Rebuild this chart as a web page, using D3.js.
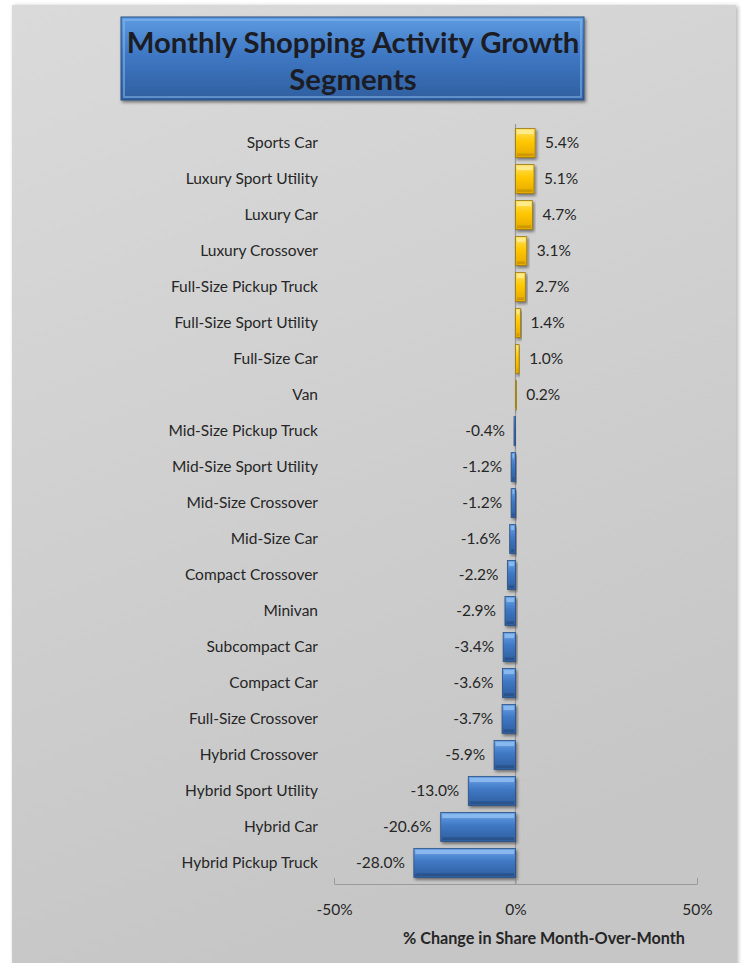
<!DOCTYPE html>
<html>
<head>
<meta charset="utf-8">
<script src="https://cdn.jsdelivr.net/npm/d3@7"></script>
<style>
  body { margin: 0; background: #fff; }
  svg { display: block; font-family: Lato, "Open Sans", sans-serif; }
</style>
</head>
<body>
<svg id="chart"></svg>
<script>
// data
var segments = ["Sports Car", "Luxury Sport Utility", "Luxury Car", "Luxury Crossover",
    "Full-Size Pickup Truck", "Full-Size Sport Utility", "Full-Size Car", "Van",
    "Mid-Size Pickup Truck", "Mid-Size Sport Utility", "Mid-Size Crossover", "Mid-Size Car",
    "Compact Crossover", "Minivan", "Subcompact Car", "Compact Car", "Full-Size Crossover",
    "Hybrid Crossover", "Hybrid Sport Utility", "Hybrid Car", "Hybrid Pickup Truck"];
var growth = [5.4, 5.1, 4.7, 3.1, 2.7, 1.4, 1.0, 0.2, -0.4, -1.2, -1.2, -1.6,
    -2.2, -2.9, -3.4, -3.6, -3.7, -5.9, -13.0, -20.6, -28.0];
var tickValues = [-50, 0, 50];

var svgWidth = 741;
var svgHeight = 963;
var textSize = 15.5;
var svg = d3.select('svg#chart')
    .attr("width", svgWidth)
    .attr("height", svgHeight);

var defs = svg.append("defs");

// panel background
var bg = defs.append("linearGradient").attr("id", "bg")
    .attr("x1", 0).attr("y1", 0).attr("x2", 0.3).attr("y2", 1);
bg.append("stop").attr("offset", "0%").attr("stop-color", "#dadada");
bg.append("stop").attr("offset", "100%").attr("stop-color", "#c6c6c6");

var shadow = defs.append("filter").attr("id", "shadow")
    .attr("x", "-10%").attr("y", "-10%").attr("width", "130%").attr("height", "140%");
shadow.append("feDropShadow").attr("dx", 1.5).attr("dy", 2).attr("stdDeviation", 1.5)
    .attr("flood-color", "#000").attr("flood-opacity", 0.45);

var panelShadow = defs.append("filter").attr("id", "pshadow")
    .attr("x", "-5%").attr("y", "-5%").attr("width", "110%").attr("height", "110%");
panelShadow.append("feDropShadow").attr("dx", 2).attr("dy", 1).attr("stdDeviation", 2)
    .attr("flood-color", "#000").attr("flood-opacity", 0.3);

function makeGrad(id, top, mid, bottom) {
    var g = defs.append("linearGradient").attr("id", id)
        .attr("x1", 0).attr("y1", 0).attr("x2", 0).attr("y2", 1);
    g.append("stop").attr("offset", "0%").attr("stop-color", top);
    g.append("stop").attr("offset", "45%").attr("stop-color", mid);
    g.append("stop").attr("offset", "100%").attr("stop-color", bottom);
}
makeGrad("gold", "#ffe066", "#ffc800", "#e6a800");
makeGrad("blue", "#6aa3e8", "#3f78c4", "#2e5e9e");
makeGrad("title", "#5d9be0", "#3f78c4", "#2f5f9f");

svg.append("rect")
    .attr("x", 12).attr("y", 5)
    .attr("width", 724).attr("height", svgHeight)
    .attr("fill", "url(#bg)")
    .attr("filter", "url(#pshadow)");

// title box
var title = svg.append("g");
title.append("rect")
    .attr("x", 121).attr("y", 17).attr("width", 463).attr("height", 83)
    .attr("fill", "url(#title)").attr("stroke", "#2a4f80").attr("stroke-width", 1)
    .attr("filter", "url(#shadow)");
title.append("rect")
    .attr("x", 124).attr("y", 20).attr("width", 457).attr("height", 77)
    .attr("fill", "none").attr("stroke", "#8bbcf0").attr("stroke-opacity", 0.5).attr("stroke-width", 2);
title.selectAll("text").data(["Monthly Shopping Activity Growth", "Segments"]).enter()
    .append("text")
    .text(function (d) { return d; })
    .attr("x", 353)
    .attr("y", function (d, i) { return 53 + i * 37; })
    .attr("text-anchor", "middle")
    .attr("font-size", 29.3)
    .attr("font-weight", "bold")
    .attr("fill", "#1c1c24");

// scales
var x = d3.scaleLinear().domain([-50, 50]).range([334, 697]);
var y = d3.scaleBand().domain(segments).range([125, 881]).paddingInner(0.2).paddingOuter(0.1);

// zero line
svg.append("line")
    .attr("x1", x(0)).attr("x2", x(0))
    .attr("y1", 124).attr("y2", 884)
    .attr("stroke", "#9a9a9a").attr("stroke-width", 1.2);

// bars
var bars = svg.selectAll("g.bar").data(growth).enter()
    .append("g").attr("class", "bar");

bars.append("rect")
    .attr("x", function (d) { return Math.min(x(0), x(d)); })
    .attr("y", function (d, i) { return y(segments[i]); })
    .attr("width", function (d) { return Math.max(1, Math.abs(x(d) - x(0))); })
    .attr("height", y.bandwidth())
    .attr("fill", function (d) { return d > 0 ? "url(#gold)" : "url(#blue)"; })
    .attr("stroke", function (d) { return d > 0 ? "#9a7a10" : "#2a4f80"; })
    .attr("stroke-width", 0.8)
    .attr("filter", "url(#shadow)");

// bevel highlight
bars.append("rect")
    .attr("x", function (d) { return Math.min(x(0), x(d)) + 1.5; })
    .attr("y", function (d, i) { return y(segments[i]) + 1.5; })
    .attr("width", function (d) { return Math.max(0, Math.abs(x(d) - x(0)) - 3); })
    .attr("height", 4)
    .attr("fill", function (d) { return d > 0 ? "#fff2a8" : "#9cc6f5"; })
    .attr("opacity", 0.7);
bars.append("rect")
    .attr("x", function (d) { return Math.min(x(0), x(d)) + 1.5; })
    .attr("y", function (d, i) { return y(segments[i]) + y.bandwidth() - 4; })
    .attr("width", function (d) { return Math.max(0, Math.abs(x(d) - x(0)) - 3); })
    .attr("height", 2.5)
    .attr("fill", function (d) { return d > 0 ? "#b88a00" : "#24497a"; })
    .attr("opacity", 0.6);

// value labels
bars.append("text")
    .text(function (d) { return d.toFixed(1) + "%"; })
    .attr("x", function (d) { return d >= 0 ? x(d) + 10 : x(d) - 9; })
    .attr("y", function (d, i) { return y(segments[i]) + y.bandwidth() / 2; })
    .attr("dy", "0.35em")
    .attr("text-anchor", function (d) { return d >= 0 ? "start" : "end"; })
    .attr("font-size", textSize)
    .attr("fill", "#262626");

// category labels
svg.selectAll("text.cat").data(segments).enter()
    .append("text")
    .attr("class", "cat")
    .text(function (d) { return d; })
    .attr("x", 318)
    .attr("y", function (d) { return y(d) + y.bandwidth() / 2; })
    .attr("dy", "0.35em")
    .attr("text-anchor", "end")
    .attr("font-size", textSize)
    .attr("fill", "#262626");

// x axis
var axis = svg.append("g")
    .attr("transform", "translate(0,884)")
    .call(d3.axisBottom(x).tickValues(tickValues).tickSizeInner(-6).tickSizeOuter(0)
        .tickPadding(20).tickFormat(function (d) { return d + "%"; }));
axis.select(".domain").attr("stroke", "#9a9a9a");
axis.selectAll(".tick line").attr("stroke", "#9a9a9a");
axis.selectAll(".tick text")
    .attr("font-size", textSize)
    .attr("font-family", "Lato, 'Open Sans', sans-serif")
    .attr("fill", "#262626");

svg.append("text")
    .text("% Change in Share Month-Over-Month")
    .attr("x", 544).attr("y", 944)
    .attr("text-anchor", "middle")
    .attr("font-size", 16.2)
    .attr("font-weight", "bold")
    .attr("fill", "#262626");
</script>
</body>
</html>
